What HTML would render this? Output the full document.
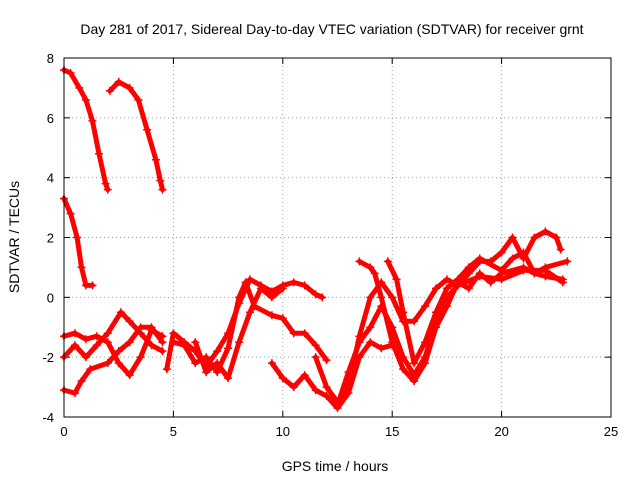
<!DOCTYPE html>
<html><head><meta charset="utf-8"><style>
body{margin:0;background:#fff;}
svg{display:block;font-family:"Liberation Sans",sans-serif;}
</style></head><body>
<svg id="chart" width="640" height="480" viewBox="0 0 640 480">
<text x="332" y="34" text-anchor="middle" font-size="14">Day 281 of 2017, Sidereal Day-to-day VTEC variation (SDTVAR) for receiver grnt</text>
<text x="335" y="471" text-anchor="middle" font-size="14">GPS time / hours</text>
<text transform="translate(19,237) rotate(-90)" text-anchor="middle" font-size="14">SDTVAR / TECUs</text>
<g id="grid"></g><g id="ticks"></g><g id="marks"></g>
<rect x="64" y="58" width="547" height="359" fill="none" stroke="#000" stroke-width="1"/>
</svg>
<script>
const xTicks=[0,5,10,15,20,25];
const yTicks=[-4,-2,0,2,4,6,8];
const trackA=[[0,7.6],[0.3,7.5],[0.7,7.0],[1.0,6.6],[1.3,5.9],[1.6,4.8],[1.9,3.8],[2.0,3.6]];
const trackB=[[2.1,6.9],[2.5,7.2],[3.0,7.0],[3.4,6.6],[3.8,5.6],[4.2,4.6],[4.4,3.9],[4.5,3.6]];
const trackC=[[0,3.3],[0.3,2.8],[0.6,2.0],[0.8,1.0],[1.0,0.4],[1.3,0.4]];
const trackD=[[0,-3.1],[0.5,-3.2],[0.8,-2.8],[1.2,-2.4],[2,-2.2],[2.5,-1.8],[3,-1.5],[3.5,-1.0],[4,-1.0],[4.5,-1.5]];
const trackE=[[0,-2.0],[0.5,-1.6],[1,-2.0],[1.5,-1.6],[2,-1.2],[2.6,-0.5],[3,-0.8],[3.5,-1.2],[4,-1.6],[4.5,-1.8]];
const trackF=[[0,-1.3],[0.5,-1.2],[1,-1.4],[1.5,-1.3],[2,-1.5],[2.5,-2.2],[3,-2.6],[3.5,-2.0],[4,-1.1],[4.5,-1.3]];
const trackG=[[4.7,-2.4],[5,-1.2],[5.5,-1.5],[6,-1.8],[6.5,-2.3],[7,-1.8],[7.5,-1.2],[8,-0.2],[8.5,0.6],[9,0.4],[9.5,0.2],[10,0.4],[10.5,0.5],[11,0.4],[11.5,0.1],[11.8,0.0]];
const trackH=[[5,-1.5],[5.5,-1.6],[6,-2.2],[6.5,-2.0],[7,-2.5],[7.5,-1.7],[8,0.0],[8.3,0.5],[8.7,-0.3],[9.5,-0.6],[10,-0.7],[10.5,-1.2],[11,-1.2],[11.5,-1.6],[12,-2.1]];
const trackI=[[6,-1.5],[6.5,-2.5],[7,-2.2],[7.5,-2.7],[8,-1.5],[8.5,-0.5],[9,0.3],[9.5,0.0],[10,0.3]];
const trackJ=[[9.5,-2.2],[10,-2.7],[10.5,-3.0],[11,-2.6],[11.5,-3.1],[12,-3.3],[12.5,-3.7],[13,-3.2],[13.5,-2.0],[14,-1.5],[14.5,-1.7],[15,-1.6]];
const trackK=[[11.5,-2.0],[12,-3.0],[12.5,-3.5],[13,-3.0],[13.5,-1.3],[14,0.0],[14.5,0.5],[15,0.0],[15.5,-0.8],[16,-0.8],[16.5,-0.3],[17,0.3],[17.5,0.6],[18,0.4],[18.5,0.8],[19,1.2],[19.5,1.2],[20,1.5],[20.5,2.0],[21,1.3],[21.5,2.0],[22,2.2],[22.5,2.0],[22.7,1.6]];
const trackL=[[13.5,1.2],[14,1.0],[14.2,0.8],[14.5,0.0],[15,-1.5],[15.5,-2.4],[16,-2.8],[16.5,-2.2],[17,-1.0],[17.5,-0.3],[18,0.5],[18.5,0.3],[19,0.8],[19.5,0.5],[20,0.8],[21,1.0],[21.5,0.8],[22,0.7],[22.8,0.6]];
const trackM=[[14.8,1.2],[15.2,0.6],[15.5,-0.5],[16,-2.2],[16.5,-1.5],[17,-0.5],[17.5,0.3],[18,0.6],[18.5,1.0],[19,1.3],[20,0.9],[20.5,1.3],[21,1.5],[21.5,0.8],[22,1.0],[23,1.2]];
const trackN=[[12.5,-3.6],[13,-2.5],[13.5,-1.5],[14,-1.0],[14.5,-0.3],[15,-1.0],[15.5,-2.0],[16,-2.6],[16.5,-2.0],[17,-0.8],[17.5,0.0],[18,0.4],[19,0.7],[20,0.6],[21,0.9],[22,0.9],[22.8,0.5]];
const tracks=[trackA,trackB,trackC,trackD,trackE,trackF,trackG,trackH,trackI,trackJ,trackK,trackL,trackM,trackN];

const NS="http://www.w3.org/2000/svg";
const X0=64,X1=611,Y0=417,Y1=58;
function sx(v){return X0+(v-0)/(25-0)*(X1-X0);}
function sy(v){return Y0-(v+4)/(8+4)*(Y0-Y1);}
function mk(tag,attrs,parent){const e=document.createElementNS(NS,tag);for(const k in attrs)e.setAttribute(k,attrs[k]);parent.appendChild(e);return e;}
const grid=document.getElementById('grid'),ticks=document.getElementById('ticks'),marks=document.getElementById('marks');
xTicks.forEach(t=>{
  const x=sx(t);
  if(t>0&&t<25){const g=mk('line',{x1:x,x2:x,y1:Y1,y2:Y0,stroke:'#a0a0a0','stroke-dasharray':'1,3'},grid);
  
  }
  mk('line',{x1:x,x2:x,y1:Y0,y2:Y0-6,stroke:'#000'},ticks);
  mk('line',{x1:x,x2:x,y1:Y1,y2:Y1+6,stroke:'#000'},ticks);
  const l=mk('text',{x:x,y:Y0+19,'text-anchor':'middle','font-size':'13'},ticks);l.textContent=t;
  
  
});
yTicks.forEach(t=>{
  const y=sy(t);
  if(t>-4&&t<8){const g=mk('line',{x1:X0,x2:X1,y1:y,y2:y,stroke:'#a0a0a0','stroke-dasharray':'1,3'},grid);
  
  }
  mk('line',{x1:X0,x2:X0+6,y1:y,y2:y,stroke:'#000'},ticks);
  mk('line',{x1:X1,x2:X1-6,y1:y,y2:y,stroke:'#000'},ticks);
  const l=mk('text',{x:X0-10,y:y+5,'text-anchor':'end','font-size':'13'},ticks);l.textContent=t;
  
  
});
tracks.forEach((tr,i)=>{
  const g=mk('g',{},marks);
  
  
  const pts=tr.map(p=>sx(p[0]).toFixed(1)+','+sy(p[1]).toFixed(1)).join(' ');
  mk('polyline',{points:pts,fill:'none',stroke:'#f00','stroke-width':'5','stroke-linejoin':'round','stroke-linecap':'round'},g);
  tr.forEach(p=>{
    const x=sx(p[0]),y=sy(p[1]);
    mk('path',{d:`M${x-4},${y}H${x+4}M${x},${y-4}V${y+4}`,stroke:'#f00','stroke-width':'1.5'},g);
  });
});
</script>
</body></html>
